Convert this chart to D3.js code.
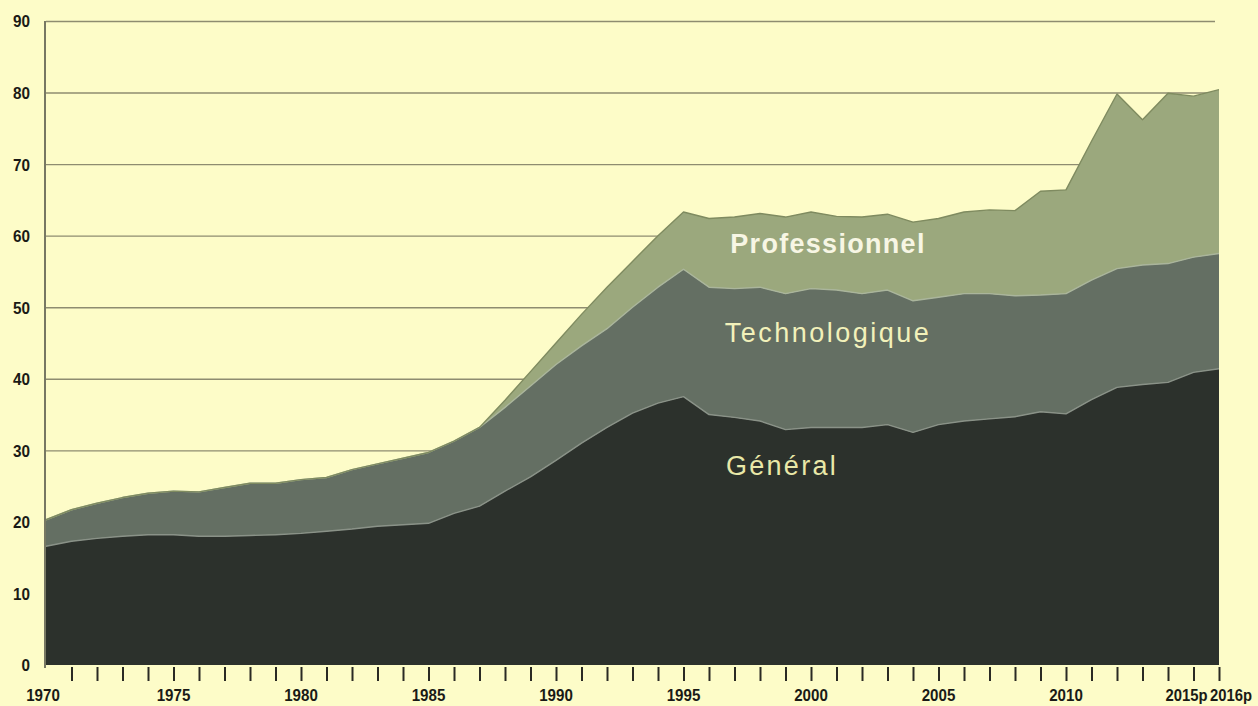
<!DOCTYPE html>
<html>
<head>
<meta charset="utf-8">
<script src="https://cdn.jsdelivr.net/npm/d3@7"></script>
<style>
  html, body { margin: 0; padding: 0; background: #fdfcc8; }
  svg { display: block; }
</style>
</head>
<body>
<svg id="chart" width="1258" height="706"></svg>
<script>
// ---- data ----
const years = [1970,1971,1972,1973,1974,1975,1976,1977,1978,1979,
               1980,1981,1982,1983,1984,1985,1986,1987,1988,1989,
               1990,1991,1992,1993,1994,1995,1996,1997,1998,1999,
               2000,2001,2002,2003,2004,2005,2006,2007,2008,2009,
               2010,2011,2012,2013,2014,2015,2016];
const general = [16.6,17.3,17.7,18.0,18.2,18.2,18.0,18.0,18.1,18.2,
                 18.4,18.7,19.0,19.4,19.6,19.8,21.2,22.2,24.3,26.3,
                 28.6,31.0,33.2,35.2,36.6,37.5,35.0,34.6,34.1,32.9,
                 33.2,33.2,33.2,33.6,32.5,33.6,34.1,34.4,34.7,35.4,
                 35.1,37.1,38.8,39.2,39.5,40.9,41.4];
const technologique = [3.7,4.4,4.9,5.4,5.8,6.1,6.2,6.8,7.3,7.2,
                       7.5,7.5,8.3,8.7,9.3,9.9,10.1,11.0,11.7,12.7,
                       13.4,13.6,13.8,14.8,16.2,17.8,17.8,18.0,18.7,19.0,
                       19.4,19.2,18.7,18.8,18.4,17.8,17.8,17.5,16.9,16.3,
                       16.8,16.7,16.6,16.7,16.6,16.1,16.1];
const professionnel = [0,0,0,0,0,0,0,0,0,0,
                       0,0,0,0,0,0,0,0,1.0,2.0,
                       3.0,4.4,5.8,6.4,7.2,8.0,9.6,10.0,10.3,10.7,
                       10.7,10.3,10.7,10.6,11.0,11.0,11.4,11.7,11.9,14.5,
                       14.5,19.4,24.4,20.3,23.8,22.5,22.9];
const seriesNames = ["Général","Technologique","Professionnel"];
const yTicks = [0,10,20,30,40,50,60,70,80,90];
const xLabelYears = [1970,1975,1980,1985,1990,1995,2000,2005,2010,2015,2016];
const xLabelTexts = ["1970","1975","1980","1985","1990","1995","2000","2005","2010","2015p","2016p"];

// ---- layout ----
const svg = d3.select("#chart");
const W = 1258, H = 706;
const x0 = 46, x1 = 1219, yBottom = 665, yTop = 21;
const condensedFont = "'Liberation Sans', Arial, sans-serif";

svg.append("rect").attr("width", W).attr("height", H).attr("fill", "#fdfcc8");

const x = d3.scaleLinear().domain([1970, 2016]).range([x0, x1]);
const y = d3.scaleLinear().domain([0, 90]).range([yBottom, yTop]);

// gridlines
const grid = svg.append("g")
  .attr("transform", `translate(${x0},0)`)
  .call(d3.axisLeft(y).tickValues(yTicks.filter(v => v > 0)).tickSize(-(1215 - x0)).tickFormat(""));
grid.select(".domain").remove();
grid.selectAll(".tick line").attr("stroke", "#8e8c70").attr("stroke-width", 1.4);

// stacked areas
const table = years.map((yr, i) => ({
  year: yr,
  "Général": general[i],
  "Technologique": technologique[i],
  "Professionnel": professionnel[i]
}));
const stack = d3.stack().keys(seriesNames);
const layers = stack(table);
const fills = { "Général": "#2c312c", "Technologique": "#646f63", "Professionnel": "#9ba87d" };
const edges = { "Général": "#8a9288", "Technologique": "#aab59c", "Professionnel": "#7f8b60" };

const area = d3.area()
  .x(d => x(d.data.year))
  .y0(d => y(d[0]))
  .y1(d => y(d[1]));
const topLine = d3.line()
  .x(d => x(d.data.year))
  .y(d => y(d[1]));

svg.append("g").selectAll("path.layer")
  .data(layers)
  .join("path")
  .attr("class", "layer")
  .attr("d", area)
  .attr("fill", d => fills[d.key]);

svg.append("g").selectAll("path.edge")
  .data(layers)
  .join("path")
  .attr("class", "edge")
  .attr("d", topLine)
  .attr("fill", "none")
  .attr("stroke", d => edges[d.key])
  .attr("stroke-width", 1.4)
  .attr("stroke-linejoin", "round");

// y axis line
svg.append("line")
  .attr("x1", 45).attr("x2", 45)
  .attr("y1", yTop).attr("y2", yBottom + 3)
  .attr("stroke", "#55564a").attr("stroke-width", 1.6);

// y labels
const yAx = svg.append("g")
  .attr("transform", `translate(30,0)`)
  .call(d3.axisLeft(y).tickValues(yTicks).tickSize(0).tickPadding(0));
yAx.select(".domain").remove();
yAx.selectAll("text")
  .attr("font-family", condensedFont)
  .attr("font-weight", "bold")
  .attr("font-size", 17)
  .attr("fill", "#1a1a16")
  .attr("dy", "0.35em")
  .attr("textLength", d => String(d).length * 8.5)
  .attr("lengthAdjust", "spacingAndGlyphs");

// x ticks
const xTickYears = years.filter(v => v > 1970);
const xAx = svg.append("g")
  .attr("transform", `translate(0,${yBottom + 2})`)
  .call(d3.axisBottom(x).tickValues(xTickYears).tickSize(14).tickFormat(""));
xAx.select(".domain").remove();
xAx.selectAll(".tick line").attr("stroke", "#2a2a24").attr("stroke-width", 2);

// x labels
const labelShift = { "2015p": -7, "2016p": 12, "1970": -3 };
svg.append("g").selectAll("text")
  .data(xLabelYears.map((v, i) => ({ v, t: xLabelTexts[i] })))
  .join("text")
  .attr("x", d => x(d.v) + (labelShift[d.t] || 0))
  .attr("y", 701)
  .attr("text-anchor", "middle")
  .attr("font-family", condensedFont)
  .attr("font-weight", "bold")
  .attr("font-size", 17)
  .attr("fill", "#1a1a16")
  .attr("textLength", d => d.t.length * 8.4)
  .attr("lengthAdjust", "spacingAndGlyphs")
  .text(d => d.t);

// series labels
const labels = [
  { t: "Professionnel", cx: 828, cy: 253, w: "bold", c: "#f7f6e4", ls: 1.3 },
  { t: "Technologique", cx: 828, cy: 342, w: "normal", c: "#f2f1ba", ls: 2.5 },
  { t: "Général", cx: 782, cy: 475, w: "normal", c: "#e9e8a8", ls: 2.3 }
];
svg.append("g").selectAll("text")
  .data(labels)
  .join("text")
  .attr("x", d => d.cx)
  .attr("y", d => d.cy)
  .attr("text-anchor", "middle")
  .attr("font-family", "'Liberation Sans', Arial, sans-serif")
  .attr("font-size", 27)
  .attr("font-weight", d => d.w)
  .attr("letter-spacing", d => d.ls)
  .attr("fill", d => d.c)
  .text(d => d.t);
</script>
</body>
</html>
